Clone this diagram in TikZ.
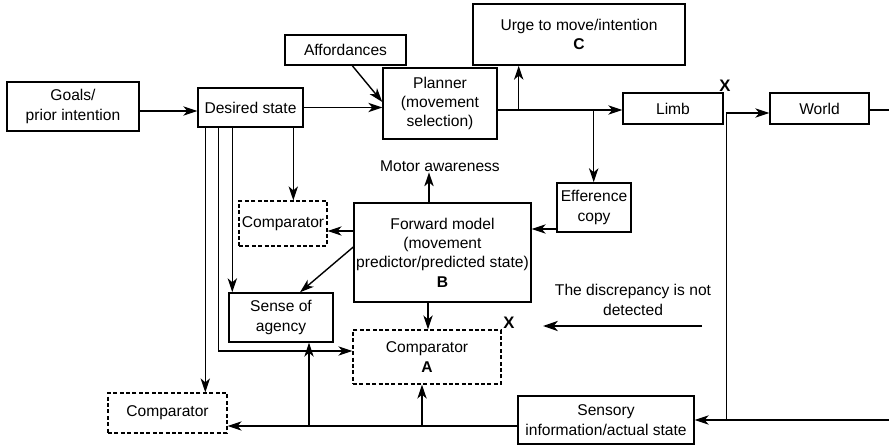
\documentclass[tikz,border=0pt]{standalone}
\usepackage{fontspec}
\setmainfont{Liberation Sans}
\usetikzlibrary{arrows.meta,calc}
\begin{document}
\begin{tikzpicture}[x=0.75pt,y=-0.75pt,
  every node/.style={font=\fontsize{11.7}{14.5}\selectfont, align=center, inner sep=0pt},
  box/.style={draw, line width=1.05pt, align=center},
  dbox/.style={draw, line width=0.9pt, align=center, dash pattern=on 3pt off 1.8pt},
  ln/.style={line width=1.05pt},
  arr/.style={ln, -{Stealth[length=10.5pt,width=7pt,inset=3pt]}},
  thickarr/.style={line width=2pt, -{Stealth[length=11pt,width=7.5pt,inset=3pt]}},
  xmark/.style={font=\fontsize{12.5}{14}\selectfont\bfseries}
]
\path[use as bounding box] (0,0) rectangle (889,445);

% nodes
\node[box, minimum width=99pt, minimum height=36.75pt] (goals) at (73,106.5) {Goals/\\prior intention};
\node[box, minimum width=78.75pt, minimum height=29.25pt] (desired) at (250.5,107.5) {Desired state};
\node[box, minimum width=90.75pt, minimum height=22.5pt] (afford) at (345.5,50) {Affordances};
\node[box, minimum width=85.5pt, minimum height=53.25pt] (planner) at (440,103.5) {Planner\\(movement\\selection)};
\node[box, minimum width=159pt, minimum height=45.75pt] (urge) at (579,34.5) {Urge to move/intention\\\textbf{C}};
\node[box, minimum width=75pt, minimum height=23.25pt] (limb) at (673,108.5) {Limb};
\node[box, minimum width=74.25pt, minimum height=23.25pt] (world) at (819.5,108.5) {World};
\node[box, minimum width=55.5pt, minimum height=36.75pt] (effer) at (594,207.5) {Efference\\copy};
\node[box, minimum width=132.75pt, minimum height=74.25pt] (fm) at (442.5,252.5) {Forward model\\(movement\\predictor/predicted state)\\\textbf{B}};
\node[dbox, minimum width=66pt, minimum height=33.75pt] (comp1) at (283,223.5) {Comparator};
\node[box, minimum width=78pt, minimum height=36.75pt] (agency) at (281,317.5) {Sense of\\agency};
\node[dbox, minimum width=111pt, minimum height=40.5pt] (compA) at (427,357) {Comparator\\\textbf{A}};
\node[dbox, minimum width=89.25pt, minimum height=30pt] (comp2) at (167.5,413) {Comparator};
\node[box, minimum width=132pt, minimum height=36pt] (sensory) at (606,420) {Sensory\\information/actual state};

\node (motor) at (440,166) {Motor awareness};
\node (disc) at (633,300) {The discrepancy is not\\detected};
\node[xmark] (x1) at (725,86) {X};
\node[xmark] (x2) at (509,323) {X};

% coordinates
\coordinate (pr) at (889,110);
\coordinate (pr2) at (889,420);
\coordinate (ta) at (702,326);
\coordinate (tb) at (543,326);
\coordinate (b1) at ($(planner.east)+(21,6.5)$);
\coordinate (b2) at ($(planner.east)+(96,6.5)$);
\coordinate (w1) at ($(world.west)+(-43,4.5)$);
\coordinate (s1) at ($(sensory.west)+(0,6)$);
\coordinate (s2) at (309,426);
\coordinate (s3) at (422,426);
\coordinate (d1) at ($(desired.south west)+(8,0)$);
\coordinate (d2) at ($(desired.south west)+(21,0)$);
\coordinate (d3) at ($(desired.south west)+(35,0)$);
\coordinate (d4) at ($(desired.south west)+(96,0)$);
\coordinate (d2b) at ($(compA.west)+(0,-6)$);
\coordinate (m1) at ($(fm.north)+(-13.5,0)$);
\coordinate (f1) at ($(fm.south)+(-14.5,0)$);

% connectors
\draw[arr] ($(goals.east)+(0,4.5)$) -- ($(goals.east -| desired.west)+(0,4.5)$);
\draw[arr] (desired.east) -- (desired.east -| planner.west);
\draw[arr] ($(afford.south west)+(68,0)$) -- ($(planner.west)+(0,-1.5)$);
\draw[arr] ($(planner.east)+(0,6.5)$) -- ($(planner.east -| limb.west)+(0,6.5)$);
\draw[arr] (b1) -- (b1 |- urge.south);
\draw[arr] (b2) -- (b2 |- effer.north);
\draw[arr] (sensory.east -| w1) -- (w1) -- ($(world.west)+(0,4.5)$);
\draw[ln] ($(world.east)+(0,1.5)$) -- (pr);
\draw[arr] (pr2) -- (sensory.east);
\draw[arr] (s1) -- (s1 -| comp2.east);
\draw[arr] (s2) -- (s2 |- agency.south);
\draw[arr] (s3) -- (s3 |- compA.south);
\draw[arr] ($(effer.west)+(0,21.5)$) -- ($(effer.west -| fm.east)+(0,21.5)$);
\draw[arr] (m1) -- ++(0,-30);
\draw[arr] ($(fm.west)+(0,-21.5)$) -- ($(fm.west -| comp1.east)+(0,-21.5)$);
\draw[arr] ($(fm.west)+(0,-5.5)$) -- ($(agency.north)+(19,0)$);
\draw[arr] (f1) -- (f1 |- compA.north);
\draw[arr] (d1) -- (d1 |- comp2.north);
\draw[arr] (d2) -- (d2 |- d2b) -- (d2b);
\draw[arr] (d3) -- (d3 |- agency.north);
\draw[arr] (d4) -- (d4 |- comp1.north);
\draw[thickarr] (ta) -- (tb);
\end{tikzpicture}
\end{document}
